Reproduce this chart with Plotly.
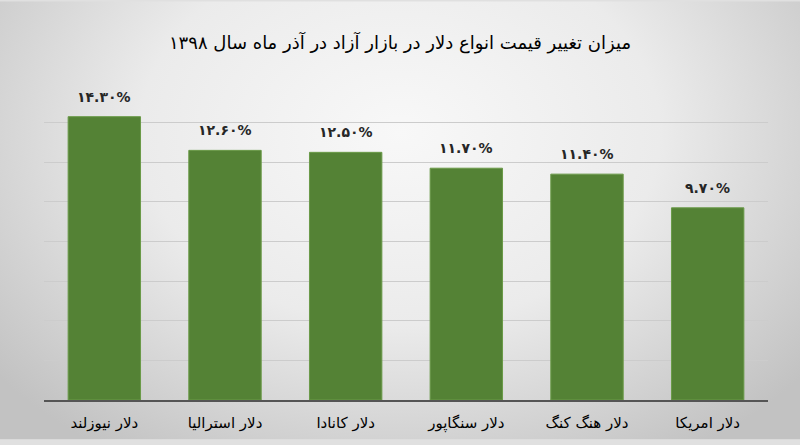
import base64
import plotly.graph_objects as go

categories = ["دلار نیوزلند", "دلار استرالیا", "دلار کانادا", "دلار سنگاپور", "دلار هنگ کنگ", "دلار امریکا"]
values = [14.3, 12.6, 12.5, 11.7, 11.4, 9.7]
title = "میزان تغییر قیمت انواع دلار در بازار آزاد در آذر ماه سال ۱۳۹۸"

FA = str.maketrans("0123456789", "۰۱۲۳۴۵۶۷۸۹")
labels = [f"{v:.2f}".translate(FA) + "%" for v in values]

FONT = "DejaVu Sans"

svg = """<svg xmlns='http://www.w3.org/2000/svg' width='800' height='445' preserveAspectRatio='none'>
<defs><radialGradient id='g' cx='0.5' cy='0.3' r='0.65' gradientTransform='translate(0.5,0.3) scale(1,1.35) translate(-0.5,-0.3)'>
<stop offset='0' stop-color='#f8f8f8'/><stop offset='0.5' stop-color='#ebebeb'/><stop offset='1' stop-color='#c2c2c2'/></radialGradient></defs>
<rect width='800' height='445' fill='url(#g)'/></svg>"""
bg = "data:image/svg+xml;base64," + base64.b64encode(svg.encode()).decode()

fig = go.Figure(go.Bar(x=categories, y=values,
                       marker=dict(color="#548235", line=dict(width=1, color="#6a9a48")),
                       hoverinfo="skip"))

for c, v, t in zip(categories, values, labels):
    fig.add_annotation(x=c, y=v, text="<b>" + t + "</b>", showarrow=False, yanchor="bottom", yshift=10,
                       font=dict(family=FONT, size=14, color="#262626"))

fig.update_layout(
    width=800, height=445,
    margin=dict(l=44, r=32, t=83, b=40),
    paper_bgcolor="#e0e0e0", plot_bgcolor="rgba(0,0,0,0)",
    bargap=0.4,
    showlegend=False,
    title=dict(text=title, x=0.5, xanchor="center", y=0.905, yanchor="middle",
               font=dict(family=FONT, size=18, color="#000000")),
    images=[dict(source=bg, xref="paper", yref="paper", x=-44/724, y=1 + 83/322,
                 sizex=800/724, sizey=445/322, sizing="stretch", layer="below",
                 xanchor="left", yanchor="top")],
    xaxis=dict(showline=True, linecolor="#555555", linewidth=2, ticks="",
               ticklabelstandoff=8,
               tickfont=dict(family=FONT, size=15, color="#000000"), fixedrange=True),
    yaxis=dict(range=[0, 16], dtick=2, showticklabels=False, showgrid=True,
               gridcolor="#cccccc", gridwidth=1, zeroline=False, showline=False, fixedrange=True),
)

fig.write_html("out.html", config={"displayModeBar": False, "staticPlot": True},
               post_script="document.body.style.margin='0';document.body.style.overflow='hidden';")
